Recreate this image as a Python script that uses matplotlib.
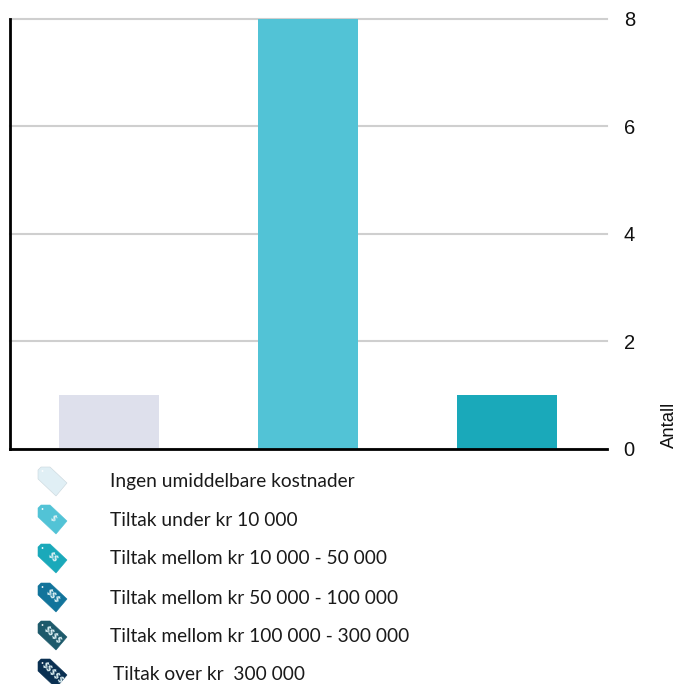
import matplotlib
matplotlib.use("Agg")
import matplotlib.pyplot as plt
from matplotlib.patches import Polygon, Circle

W, H = 681, 684
positions = [0, 1, 2]
values = [1, 8, 1]
bar_colors = ["#dee0ec", "#52c3d6", "#1aa9ba"]
y_ticks = [0, 2, 4, 6, 8]
legend_labels = ["Ingen umiddelbare kostnader", "Tiltak under kr 10 000",
                 "Tiltak mellom kr 10 000 - 50 000", "Tiltak mellom kr 50 000 - 100 000",
                 "Tiltak mellom kr 100 000 - 300 000", "Tiltak over kr  300 000"]
legend_colors = ["#e0eff5", "#52c3d6", "#1aa9ba", "#12749b", "#1e5a6b", "#0a3052"]
legend_signs = ["", "$", "$$", "$$$", "$$$$", "$$$$$"]
legend_text_y = [482, 521, 559, 598, 636, 675]
legend_text_x = [110, 110, 110, 110, 110, 113]
tag_top_y = [467, 505, 544, 583, 621, 659]
TAG = [(0, 3), (3, 0), (12, 0), (29, 16), (18, 29), (0, 12)]

fig = plt.figure(figsize=(W / 100, H / 100), dpi=100, facecolor="white")
ax = fig.add_axes([10 / W, 1 - 449 / H, 597 / W, 430.5 / H])
ax.bar(positions, values, width=0.5, color=bar_colors, zorder=3)
ax.set_xlim(-0.497, 2.503)
ax.set_ylim(0, 8)
ax.set_xticks([])
ax.set_yticks(y_ticks)
ax.yaxis.tick_right()
ax.tick_params(axis="y", length=0, pad=12, labelsize=14.5, labelcolor="#111111")
for t in ax.get_yticklabels():
    t.set_fontfamily("Liberation Sans")
ax.grid(axis="y", color="#cfcfcf", linewidth=1.5, zorder=1, clip_on=False)
ax.set_axisbelow(True)
for s in ["top", "right"]:
    ax.spines[s].set_visible(False)
ax.spines["left"].set_linewidth(2.0)
ax.spines["left"].set_color("black")
ax.spines["bottom"].set_linewidth(2.0)
ax.spines["bottom"].set_color("black")
for s in ["left", "bottom"]:
    ax.spines[s].set_zorder(5)

fig.text(669 / W, 1 - 448.5 / H, "Antall", rotation=90, ha="center", va="bottom",
         fontsize=13.3, family="Liberation Sans", color="#111111")

ov = fig.add_axes([0, 0, 1, 1], facecolor="none")
ov.set_xlim(0, W)
ov.set_ylim(H, 0)
ov.axis("off")
for label, color, sign, ty, tx, top in zip(legend_labels, legend_colors, legend_signs,
                                            legend_text_y, legend_text_x, tag_top_y):
    ov.text(tx, ty, label, fontsize=13.75, family="Lato", va="center", ha="left", color="#1a1a1a")
    pts = [(38 + x, top + y) for x, y in TAG]
    edge = "#c9d6dc" if sign == "" else color
    ov.add_patch(Polygon(pts, closed=True, facecolor=color, edgecolor=edge, linewidth=0.4))
    ov.add_patch(Circle((42.5, top + 4), 0.9, facecolor="white", edgecolor="none"))
    if sign:
        ov.text(52.5, top + 13.5, sign, rotation=-44, rotation_mode="anchor", ha="center", va="center",
                fontsize=5.5, fontweight="bold", family="DejaVu Sans", color="#dff2f5", parse_math=False)

fig.savefig("out.png", dpi=100)
